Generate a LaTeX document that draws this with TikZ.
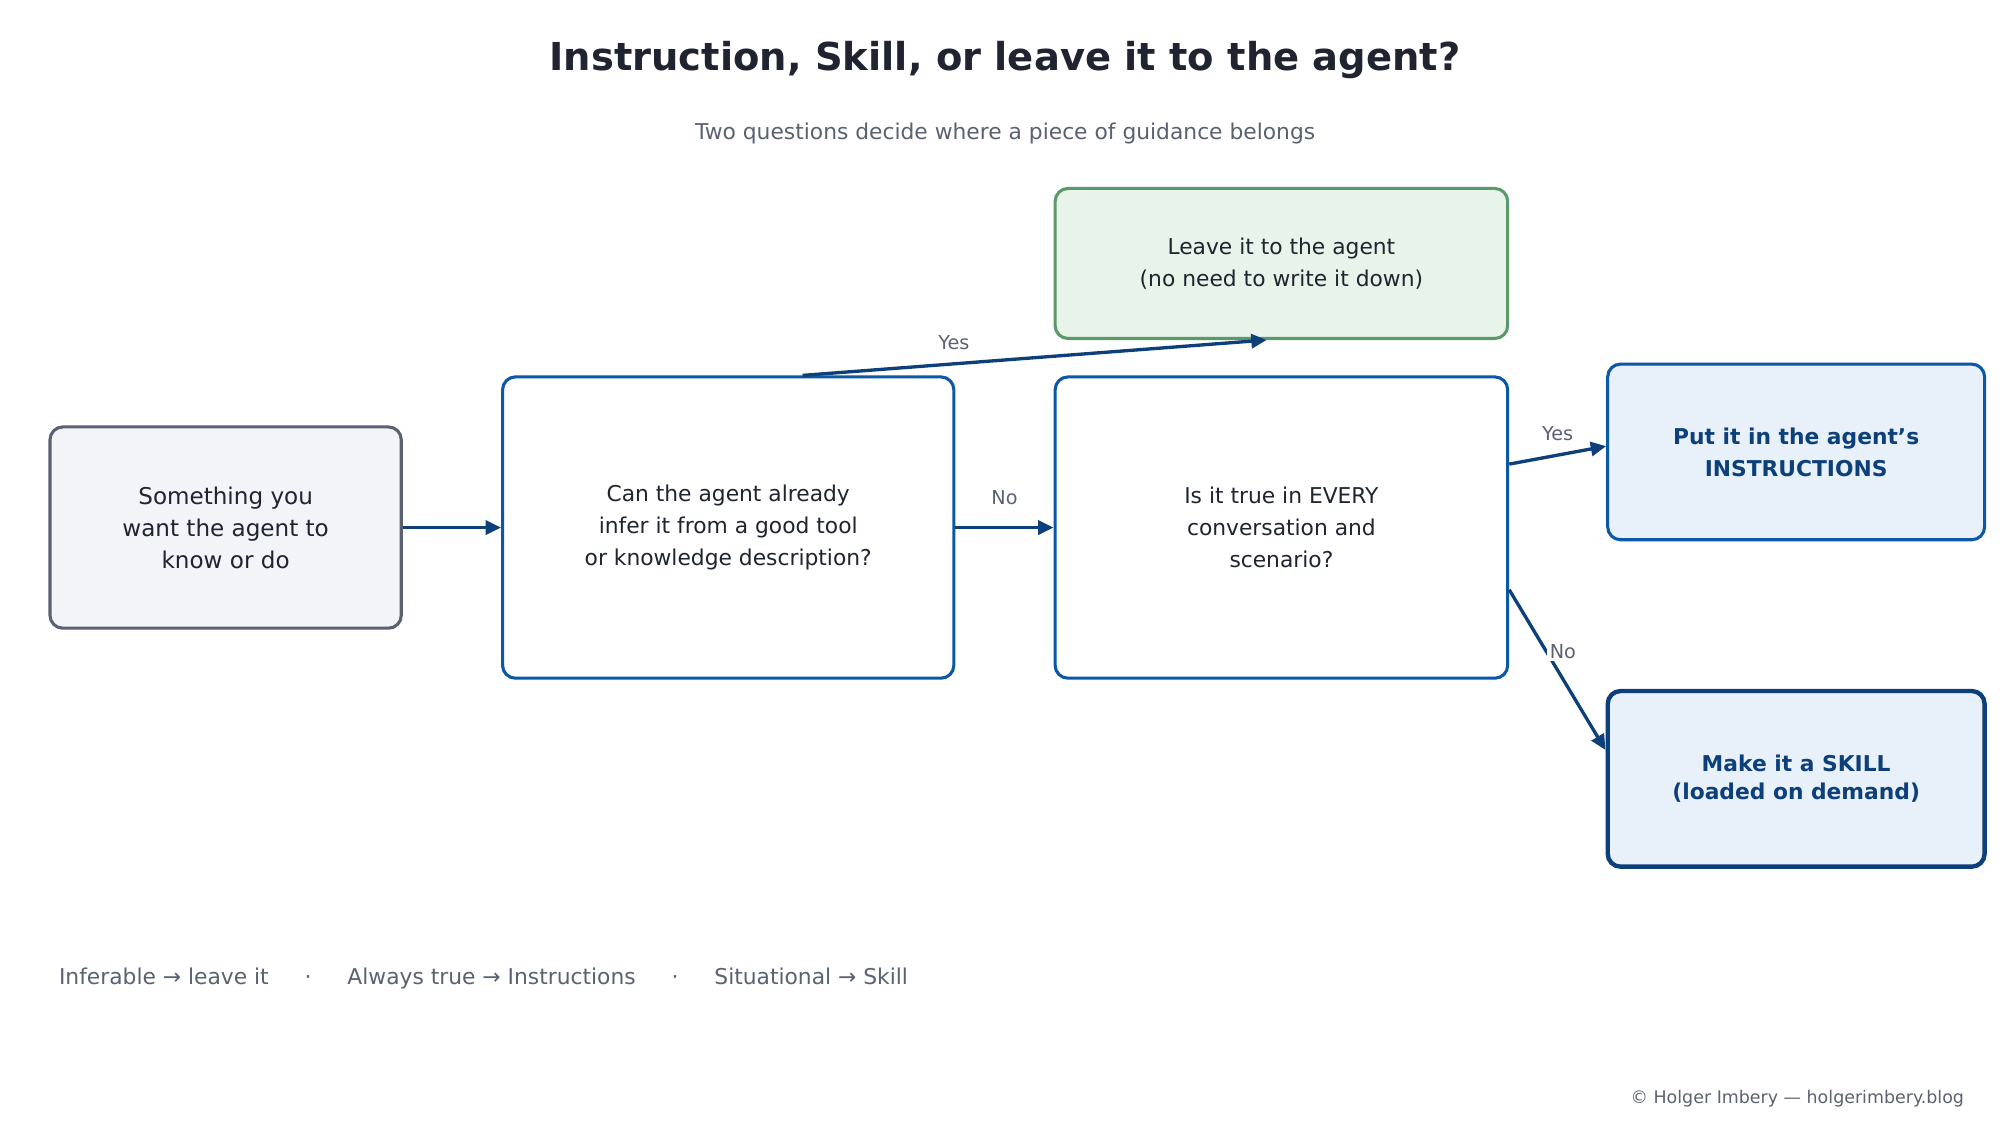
\documentclass[tikz,border=0pt]{standalone}
\usepackage{fontspec}
\setmainfont{DejaVu Sans}
\usetikzlibrary{calc,arrows.meta}
\definecolor{ink}{HTML}{1F2430}
\definecolor{muted}{HTML}{5A6170}
\definecolor{blueb}{HTML}{0B57A8}
\definecolor{dark}{HTML}{0D3F7A}
\definecolor{greenb}{HTML}{5A9A68}
\definecolor{greenf}{HTML}{E8F3EA}
\definecolor{bluef}{HTML}{E8F0FA}
\definecolor{grayf}{HTML}{F3F4F8}
\begin{document}
\begin{tikzpicture}[x=0.5pt,y=-0.5pt,
 box/.style={draw,rounded corners=5pt,line width=1.2pt,align=center,font=\fontsize{8.5}{12.5}\selectfont,text=ink,inner sep=0pt},
 arr/.style={draw=dark,line width=1.3pt,-{Triangle[length=6pt,width=5.5pt]}},
 lab/.style={font=\fontsize{7.5}{9}\selectfont,text=muted}]
\useasboundingbox (0,0) rectangle (1560,877.5);
\node[font=\bfseries\fontsize{15}{18}\selectfont,text=ink] (title) at (784,47) {Instruction, Skill, or leave it to the agent?};
\node[font=\fontsize{8.5}{10}\selectfont,text=muted] (sub) at (784,104) {Two questions decide where a piece of guidance belongs};
\node[box,draw=muted,fill=grayf,minimum width=137pt,minimum height=78.5pt,font=\fontsize{9}{12.5}\selectfont] (start) at (176,411.5) {Something you\\want the agent to\\know or do};
\node[box,draw=blueb,fill=white,minimum width=176pt,minimum height=117.5pt] (q1) at (568,411.5) {Can the agent already\\infer it from a good tool\\or knowledge description?};
\node[box,draw=greenb,fill=greenf,minimum width=176.5pt,minimum height=58.5pt] (leave) at (999.5,205.5) {Leave it to the agent\\(no need to write it down)};
\node[box,draw=blueb,fill=white,minimum width=176.5pt,minimum height=117.5pt] (q2) at (999.5,411.5) {Is it true in EVERY\\conversation and\\scenario?};
\node[box,draw=blueb,fill=bluef,minimum width=147pt,minimum height=68.5pt,font=\bfseries\fontsize{8.5}{12.5}\selectfont,text=dark] (instr) at (1401,352.5) {Put it in the agent's\\INSTRUCTIONS};
\node[box,draw=dark,line width=1.7pt,fill=bluef,minimum width=147pt,minimum height=68.5pt,font=\bfseries\fontsize{8.5}{11}\selectfont,text=dark] (skill) at (1401,607.5) {Make it a SKILL\\(loaded on demand)};
\draw[arr] (start.east) -- (q1.west);
\draw[arr] (q1.east) -- node[lab,above=5pt] (no1) {No} (q2.west);
\coordinate (yA) at ($(q1.north)+(58,0)$);
\coordinate (yB) at ($(leave.south)+(-11.5,0)$);
\draw[arr] (yA) -- (yB);
\node[lab] (yes1) at (744,267) {Yes};
\coordinate (iA) at ($(q2.east)+(0,-49.5)$);
\coordinate (iB) at ($(instr.west)+(0,-4.5)$);
\draw[arr] (iA) -- (iB);
\node[lab] (yes2) at (1215,338) {Yes};
\coordinate (sA) at ($(q2.east)+(0,48.5)$);
\coordinate (sB) at ($(skill.west)+(0,-22.5)$);
\draw[arr] (sA) -- (sB);
\node[lab,fill=white,inner sep=1pt] (no2) at (1219,508) {No};
\node[anchor=west,font=\fontsize{8.5}{10}\selectfont,text=muted] (legend) at (39,763) {Inferable → leave it\hspace{14pt}·\hspace{14pt}Always true → Instructions\hspace{14pt}·\hspace{14pt}Situational → Skill};
\node[anchor=east,font=\fontsize{6.8}{8}\selectfont,text=muted] (foot) at (1539,857) {© Holger Imbery — holgerimbery.blog};
\end{tikzpicture}
\end{document}
